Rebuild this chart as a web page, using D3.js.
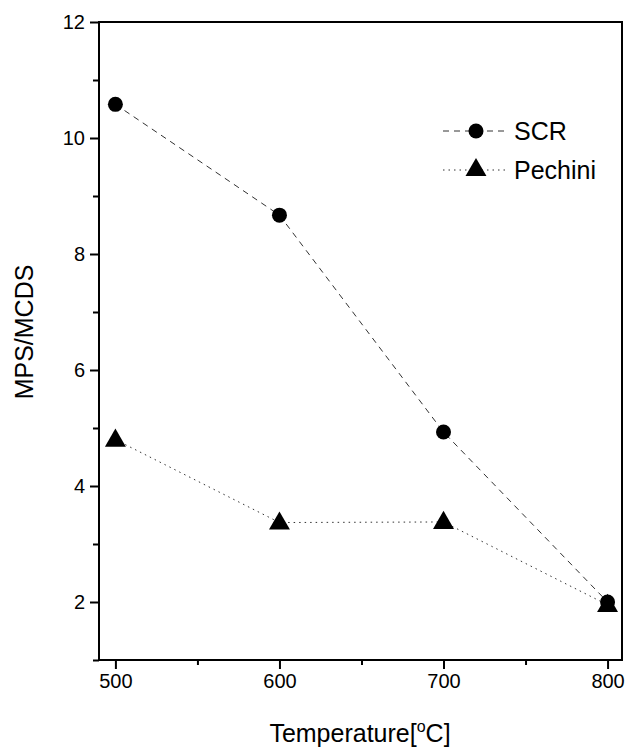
<!DOCTYPE html>
<html>
<head>
<meta charset="utf-8">
<script src="https://cdn.jsdelivr.net/npm/d3@7"></script>
<style>
  body { margin: 0; background: #fff; }
  text { font-family: Arial, "Liberation Sans", sans-serif; fill: #000; }
</style>
</head>
<body>
<svg id="chart" width="625" height="748"></svg>
<script>
const temps = [500, 600, 700, 800];
const scr = [10.58, 8.67, 4.93, 2.0];
const pechini = [4.8, 3.37, 3.38, 1.95];
const xTicks = [500, 600, 700, 800];
const xMinor = [550, 650, 750];
const yTicks = [2, 4, 6, 8, 10, 12];
const yMinor = [1, 3, 5, 7, 9, 11];

const svg = d3.select('#chart');
const plotL = 99, plotR = 622, plotT = 22, plotB = 660;

const x = d3.scaleLinear().domain([490, 808.8]).range([plotL, plotR]);
const y = d3.scaleLinear().domain([1, 12]).range([plotB, plotT]);

// frame
svg.append('rect')
  .attr('x', plotL).attr('y', plotT)
  .attr('width', plotR - plotL).attr('height', plotB - plotT)
  .attr('fill', 'none').attr('stroke', '#000').attr('stroke-width', 2);

// axes
svg.append('g').attr('transform', `translate(0,${plotB})`)
  .call(d3.axisBottom(x).tickValues(xTicks).tickSize(9).tickPadding(5).tickFormat(d3.format('d')));
svg.append('g').attr('transform', `translate(0,${plotB})`)
  .call(d3.axisBottom(x).tickValues(xMinor).tickSize(5).tickFormat(''));
svg.append('g').attr('transform', `translate(${plotL},0)`)
  .call(d3.axisLeft(y).tickValues(yTicks).tickSize(9).tickPadding(5));
svg.append('g').attr('transform', `translate(${plotL},0)`)
  .call(d3.axisLeft(y).tickValues(yMinor).tickSize(6).tickFormat(''));

svg.selectAll('.domain').remove();
svg.selectAll('.tick line').attr('stroke', '#000').attr('stroke-width', 2);
svg.selectAll('.tick text').attr('font-size', 20).attr('font-family', 'Arial, "Liberation Sans", sans-serif');

// axis titles
svg.append('text')
  .attr('x', 360).attr('y', 742)
  .attr('text-anchor', 'middle').attr('font-size', 25)
  .html('Temperature[<tspan dy="-10" font-size="16">o</tspan><tspan dy="10">C]</tspan>');
svg.append('text')
  .attr('transform', 'translate(33,332) rotate(-90)')
  .attr('text-anchor', 'middle').attr('font-size', 25)
  .text('MPS/MCDS');

const line = d3.line().x((d, i) => x(temps[i])).y(d => y(d));

svg.append('path').datum(scr)
  .attr('d', line).attr('fill', 'none')
  .attr('stroke', '#333').attr('stroke-width', 1).attr('stroke-dasharray', '6,5');
svg.append('path').datum(pechini)
  .attr('d', line).attr('fill', 'none')
  .attr('stroke', '#333').attr('stroke-width', 1).attr('stroke-dasharray', '1.5,4');

const tri = d3.symbol().type(d3.symbolTriangle).size(190);

svg.selectAll('.scr').data(scr).join('circle')
  .attr('cx', (d, i) => x(temps[i])).attr('cy', d => y(d))
  .attr('r', 7.5).attr('fill', '#000');
svg.selectAll('.pech').data(pechini).join('path')
  .attr('d', tri)
  .attr('transform', (d, i) => `translate(${x(temps[i])},${y(d) + 1})`)
  .attr('fill', '#000');

// legend
const lg = svg.append('g');
lg.append('line').attr('x1', 443).attr('x2', 508).attr('y1', 131).attr('y2', 131)
  .attr('stroke', '#333').attr('stroke-dasharray', '6,5');
lg.append('circle').attr('cx', 476).attr('cy', 131).attr('r', 7.5).attr('fill', '#000');
lg.append('text').attr('x', 514).attr('y', 140).attr('font-size', 25).text('SCR');
lg.append('line').attr('x1', 443).attr('x2', 508).attr('y1', 170).attr('y2', 170)
  .attr('stroke', '#333').attr('stroke-dasharray', '1.5,4');
lg.append('path').attr('d', tri).attr('transform', 'translate(476,170)').attr('fill', '#000');
lg.append('text').attr('x', 514).attr('y', 179).attr('font-size', 25).text('Pechini');
</script>
</body>
</html>
